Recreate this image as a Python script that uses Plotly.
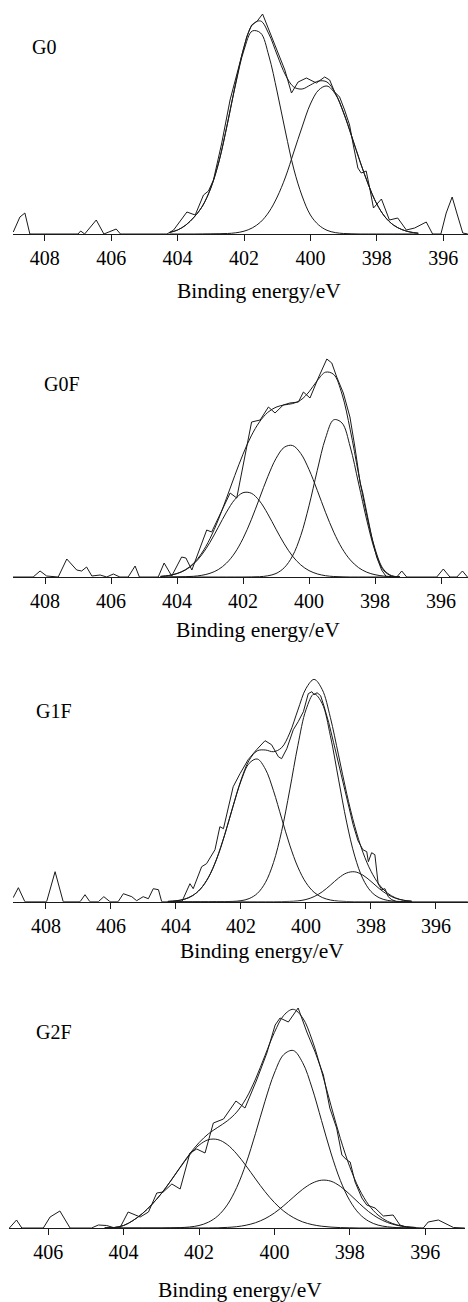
import plotly.graph_objects as go

# ---------------- data (binding energy in eV, intensity in a.u.) ----------------
# G0
g0_raw_be = [408.95, 408.75, 408.60, 408.45, 407.0, 406.92, 406.80, 406.45, 406.22, 405.85, 405.72,
             404.32, 404.22, 404.12, 403.72, 403.47, 403.22, 403.07, 402.92, 402.67, 402.42, 402.17,
             401.92, 401.77, 401.60, 401.44, 401.22, 400.97, 400.77, 400.57, 400.37, 400.12, 399.82,
             399.57, 399.42, 399.27, 399.12, 398.97, 398.82, 398.72, 398.57, 398.47, 398.32, 398.22,
             398.10, 397.86, 397.62, 397.37, 397.11, 396.86, 396.51, 396.32, 396.07, 395.91, 395.73,
             395.59, 395.41, 395.26]
g0_raw_int = [2, 17, 21, 0, 0, 3, 0, 14, 0, 5, 0,
              0, 2, 4, 22, 19, 39, 43, 54, 91, 134, 167,
              197, 209, 213, 220, 202, 181, 164, 141, 152, 156, 151,
              157, 154, 142, 137, 124, 109, 91, 66, 61, 63, 47,
              26, 35, 14, 16, 4, 6, 12, 0, 0, 21, 37,
              21, 1, 0]
g0_fit_be = [404.25, 404.0, 403.75, 403.5, 403.25, 403.0, 402.75, 402.5, 402.25, 402.0, 401.75,
             401.5, 401.25, 401.0, 400.75, 400.5, 400.25, 400.0, 399.75, 399.5, 399.25, 399.0,
             398.75, 398.5, 398.25, 398.0, 397.75, 397.5, 397.25, 397.0, 396.75]
g0_peak_a = [1.5, 4, 9, 17, 28, 46, 73, 110, 150, 184, 203, 201, 178, 142, 102, 65, 38, 19, 9,
             3.7, 1.4, 0.5, 0.2, 0, 0, 0, 0, 0, 0, 0, 0]
g0_peak_b = [0, 0, 0, 0, 0.1, 0.2, 0.3, 0.5, 1.2, 2.8, 6.1, 12, 22, 37, 57, 82, 107, 130, 144,
             148, 140, 121, 97, 72, 49, 30, 17, 9, 4.5, 2, 0.8]
g0_envelope = [1.5, 4, 9, 17, 28, 46, 73, 110.5, 151, 187, 209, 213, 200, 179, 159, 147, 145, 149,
               153, 152, 141, 121.5, 97, 72, 49, 30, 17, 9, 4.5, 2, 0.8]

# G0F
g0f_raw_be = [408.97, 408.36, 408.15, 407.95, 407.60, 407.34, 407.04, 406.89, 406.74, 406.58, 406.33,
              406.13, 405.93, 405.73, 405.48, 405.27, 405.14, 404.57, 404.39, 404.16, 403.86, 403.73,
              403.55, 403.10, 402.95, 402.55, 402.39, 402.19, 401.99, 401.74, 401.48, 401.23, 401.03,
              400.78, 400.58, 400.32, 400.17, 399.97, 399.72, 399.46, 399.31, 399.16, 398.96, 398.76,
              398.61, 398.45, 398.37, 398.25, 398.10, 397.95, 397.80, 397.65, 397.34, 397.19, 397.04,
              396.13, 395.93, 395.73, 395.52, 395.35, 395.20]
g0f_raw_int = [0, 0, 6, 1, 0, 18, 7, 6, 10, 1, 2,
               0, 3, 0, 0, 11, 0, 0, 14, 1, 20, 19,
               7, 47, 45, 74, 84, 79, 114, 155, 157, 170, 164,
               172, 174, 175, 185, 179, 199, 218, 214, 200, 184, 160,
               130, 94, 84, 64, 40, 20, 7, 0, 0, 6, 0,
               0, 8, 0, 0, 6, 0]
g0f_fit_be = [404.5, 404.25, 404.0, 403.75, 403.5, 403.25, 403.0, 402.75, 402.5, 402.25, 402.0,
              401.75, 401.5, 401.25, 401.0, 400.75, 400.5, 400.25, 400.0, 399.75, 399.5, 399.25,
              399.0, 398.75, 398.5, 398.25, 398.0, 397.75, 397.5, 397.25]
g0f_peak_a = [0.6, 1.5, 3.4, 6.9, 12.9, 22.2, 34.7, 49.7, 64.9, 77.4, 84.3, 83.8, 76.1, 63.1, 47.8,
              33.1, 20.9, 12.1, 6.4, 3.1, 1.3, 0.5, 0.2, 0, 0, 0, 0, 0, 0, 0]
g0f_peak_b = [0, 0, 0.1, 0.3, 0.7, 1.7, 3.7, 7.4, 13.9, 24.0, 38.5, 57.2, 78.7, 100.3, 118.5, 129.7,
              131.5, 123.5, 107.5, 86.7, 64.7, 44.8, 28.7, 17.1, 9.4, 4.8, 2.3, 1.0, 0.4, 0.2]
g0f_peak_c = [0, 0, 0, 0, 0, 0, 0, 0, 0, 0, 0, 0.1, 0.3, 1.2, 3.5, 9.3, 21.0, 41.4, 71.2, 106.6,
              138.8, 157.2, 154, 130, 94, 57, 26, 7, 1, 0]
g0f_envelope = [0.6, 1.5, 3.5, 7.2, 13.6, 23.9, 38.4, 57.1, 78.8, 101.4, 122.8, 141.1, 155.1, 164.6,
                169.8, 172.1, 173.4, 177.0, 185.1, 196.4, 204.8, 202.5, 182.9, 147.1, 103.4, 61.8,
                28.3, 8.0, 1.4, 0.2]

# G1F
g1f_raw_be = [409.01, 408.85, 408.65, 407.98, 407.72, 407.47, 406.95, 406.80, 406.65, 406.39, 406.22,
              406.03, 405.78, 405.62, 405.36, 405.21, 405.01, 404.85, 404.70, 404.54, 404.44, 403.82,
              403.57, 403.47, 403.21, 403.06, 402.80, 402.65, 402.54, 402.34, 402.24, 402.03, 401.78,
              401.52, 401.26, 401.06, 400.85, 400.75, 400.59, 400.39, 400.24, 400.08, 399.93, 399.82,
              399.75, 399.66, 399.55, 399.45, 399.30, 399.15, 399.00, 398.85, 398.70, 398.55, 398.40,
              398.25, 398.13, 398.08, 397.98, 397.88, 397.78, 397.67, 397.57, 397.47, 397.36, 397.20,
              395.02]
g1f_raw_int = [4, 14, 0, 0, 30, 0, 0, 7, 0, 0, 5,
               0, 0, 8, 5, 1, 5, 3, 13, 12, 0, 0,
               18, 13, 35, 38, 52, 75, 73, 103, 115, 128, 142,
               152, 161, 157, 145, 143, 153, 172, 180, 190, 208, 210,
               207, 209, 206, 196, 179, 159, 139, 117, 96, 77, 61,
               52, 50, 40, 49, 47, 18, 12, 13, 5, 2, 0,
               0]
g1f_fit_be = [404.25, 404.0, 403.75, 403.5, 403.25, 403.0, 402.75, 402.5, 402.25, 402.0, 401.75,
              401.5, 401.25, 401.0, 400.75, 400.5, 400.25, 400.0, 399.75, 399.5, 399.25, 399.0,
              398.75, 398.5, 398.25, 398.0, 397.75, 397.5, 397.25, 397.0, 396.75]
g1f_peak_a = [0.3, 0.9, 2.4, 5.9, 12.6, 24.4, 42.6, 67.0, 94.7, 120.6, 138.3, 142.7, 132.6, 110.9,
              83.5, 56.6, 34.6, 19.0, 9.4, 4.2, 1.7, 0.6, 0.2, 0, 0, 0, 0, 0, 0, 0, 0]
g1f_peak_b = [0, 0, 0, 0, 0, 0, 0.1, 0.1, 0.3, 1.0, 3.1, 8.2, 19.1, 39.1, 70.4, 111.8, 156.2, 192.0,
              207.8, 198.0, 166.0, 122.6, 79.6, 45.6, 22.9, 10.2, 4.0, 1.4, 0.4, 0.1, 0]
g1f_peak_c = [0, 0, 0, 0, 0, 0, 0, 0, 0, 0, 0, 0, 0, 0, 0.1, 0.3, 0.8, 2.2, 5.1, 9.9, 16.5, 23.6,
              28.7, 29.9, 26.6, 20.3, 13.2, 7.4, 3.5, 1.4, 0.5]
g1f_envelope = [0.3, 0.9, 2.4, 5.9, 12.6, 24.4, 42.7, 67.1, 95.0, 121.6, 141.4, 150.9, 151.7, 150.0,
                154.0, 168.7, 191.6, 213.2, 222.3, 212.1, 184.2, 146.8, 108.5, 75.5, 49.5, 30.5,
                17.2, 8.8, 3.9, 1.5, 0.5]

# G2F
g2f_raw_be = [407.03, 406.84, 406.70, 406.13, 405.95, 405.69, 405.42, 404.85, 404.67, 404.45, 404.23,
              404.10, 403.88, 403.56, 403.34, 403.12, 402.95, 402.72, 402.50, 402.24, 402.06, 401.84,
              401.62, 401.35, 401.02, 400.78, 400.47, 400.20, 399.98, 399.85, 399.63, 399.37, 399.14,
              398.92, 398.70, 398.53, 398.35, 398.21, 398.08, 397.99, 397.86, 397.68, 397.55, 397.33,
              397.11, 396.85, 396.67, 396.49, 396.05, 395.92, 395.65, 395.25, 394.95]
g2f_raw_int = [0, 8, 0, 0, 11, 17, 0, 0, 3, 2.5, 0,
               0, 16, 11, 16, 35, 36, 44, 39, 75, 79, 75,
               105, 109, 127, 120, 148, 175, 203, 210, 206, 220, 196,
               176, 153, 120, 100, 73, 68, 66, 46, 30, 23, 20,
               12, 13, 3, 0.7, 0, 6, 8, 0.5, 0]
g2f_fit_be = [404.5, 404.25, 404.0, 403.75, 403.5, 403.25, 403.0, 402.75, 402.5, 402.25, 402.0,
              401.75, 401.5, 401.25, 401.0, 400.75, 400.5, 400.25, 400.0, 399.75, 399.5, 399.25,
              399.0, 398.75, 398.5, 398.25, 398.0, 397.75, 397.5, 397.25, 397.0, 396.75, 396.5,
              396.25]
g2f_peak_a = [0, 0.5, 2.5, 7.5, 14.5, 23.5, 34.4, 47.0, 60.4, 73.0, 82.8, 88.3, 88.4, 83.4, 74.1,
              62.1, 49.0, 36.4, 25.5, 16.8, 10.5, 6.1, 3.4, 1.8, 0.9, 0.4, 0.2, 0, 0, 0, 0, 0, 0, 0]
g2f_peak_b = [0, 0, 0, 0, 0, 0, 0, 0.2, 0.4, 1.0, 2.5, 5.8, 12.1, 23.1, 40.5, 64.7, 94.7, 126.7,
              155.0, 173.5, 177.5, 165.3, 139.9, 107.5, 75.0, 47.5, 27.4, 14.3, 6.8, 2.9, 1.2, 0.4,
              0.1, 0]
g2f_peak_c = [0, 0, 0, 0, 0, 0, 0, 0, 0, 0, 0, 0.1, 0.2, 0.6, 1.3, 2.8, 5.3, 9.3, 15.0, 22.4, 30.7,
              38.7, 44.8, 47.8, 46.8, 41.6, 33.6, 24.7, 16.4, 10.0, 5.5, 2.7, 1.2, 0.5]
g2f_envelope = [0, 0.5, 2.5, 7.5, 14.5, 23.5, 34.4, 47.2, 60.8, 74.0, 85.3, 94.2, 100.7, 107.1,
                115.9, 129.6, 149.0, 172.4, 195.5, 212.7, 218.7, 210.1, 188.1, 157.1, 122.7, 89.5,
                61.2, 39.0, 23.2, 12.9, 6.7, 3.1, 1.3, 0.5]

sample_labels = ["G0", "G0F", "G1F", "G2F"]
tick_values = [408, 406, 404, 402, 400, 398, 396]
tick_values_g2f = [406, 404, 402, 400, 398, 396]
axis_title = "Binding energy/eV"

# ---------------- layout geometry (pixels) ----------------
W, H = 468, 1302
FONT = "Liberation Serif, Times New Roman, serif"
INK = "#1a1a1a"

panels = [
    dict(raw=(g0_raw_be, g0_raw_int), fit=g0_fit_be, env=g0_envelope,
         comps=[g0_peak_a, g0_peak_b], ticks=tick_values,
         x0=13, x1=468, base=234, top=10, xr=[408.958, 395.253],
         lab=(43.5, 47), title=(259, 291)),
    dict(raw=(g0f_raw_be, g0f_raw_int), fit=g0f_fit_be, env=g0f_envelope,
         comps=[g0f_peak_a, g0f_peak_b, g0f_peak_c], ticks=tick_values,
         x0=13, x1=468, base=577, top=350, xr=[408.970, 395.182],
         lab=(61.5, 384), title=(258, 630)),
    dict(raw=(g1f_raw_be, g1f_raw_int), fit=g1f_fit_be, env=g1f_envelope,
         comps=[g1f_peak_a, g1f_peak_b, g1f_peak_c], ticks=tick_values,
         x0=13, x1=468, base=901.7, top=670, xr=[409.015, 395.015],
         lab=(53.5, 711), title=(262, 951.5)),
    dict(raw=(g2f_raw_be, g2f_raw_int), fit=g2f_fit_be, env=g2f_envelope,
         comps=[g2f_peak_a, g2f_peak_b, g2f_peak_c], ticks=tick_values_g2f,
         x0=9, x1=465, base=1228, top=995, xr=[407.040, 394.944],
         lab=(53.5, 1032), title=(240, 1290)),
]

fig = go.Figure()
layout = dict(width=W, height=H, margin=dict(l=0, r=0, t=0, b=0),
              paper_bgcolor="white", plot_bgcolor="white", showlegend=False,
              annotations=[])

for i, p in enumerate(panels):
    n = "" if i == 0 else str(i + 1)
    xa, ya = "x" + n, "y" + n
    line_style = dict(color=INK, width=1)
    # fitted components
    for comp in p["comps"]:
        fig.add_trace(go.Scatter(x=p["fit"], y=comp, mode="lines", xaxis=xa, yaxis=ya,
                                 line=dict(shape="spline", smoothing=1, **line_style),
                                 hoverinfo="skip"))
    # envelope
    fig.add_trace(go.Scatter(x=p["fit"], y=p["env"], mode="lines", xaxis=xa, yaxis=ya,
                             line=dict(shape="spline", smoothing=1, **line_style),
                             hoverinfo="skip"))
    # raw spectrum
    fig.add_trace(go.Scatter(x=p["raw"][0], y=p["raw"][1], mode="lines", xaxis=xa, yaxis=ya,
                             line=dict(shape="linear", **line_style), hoverinfo="skip"))

    layout["xaxis" + n] = dict(
        domain=[p["x0"] / W, p["x1"] / W], range=p["xr"], anchor=ya,
        showline=True, linecolor=INK, linewidth=1, mirror=False,
        ticks="outside", ticklen=6, tickwidth=1, tickcolor=INK,
        tickvals=p["ticks"], ticktext=[str(t) for t in p["ticks"]],
        tickfont=dict(family=FONT, size=20, color="black"),
        showgrid=False, zeroline=False, fixedrange=True)
    layout["yaxis" + n] = dict(
        domain=[1 - p["base"] / H, 1 - p["top"] / H], range=[0, p["base"] - p["top"]],
        anchor=xa, visible=False, showgrid=False, zeroline=False, fixedrange=True)
    layout["annotations"].append(dict(
        text=sample_labels[i], x=p["lab"][0] / W, y=1 - p["lab"][1] / H,
        xref="paper", yref="paper", xanchor="center", yanchor="middle", showarrow=False,
        font=dict(family=FONT, size=20, color="black")))
    layout["annotations"].append(dict(
        text=axis_title, x=p["title"][0] / W, y=1 - p["title"][1] / H,
        xref="paper", yref="paper", xanchor="center", yanchor="middle", showarrow=False,
        font=dict(family=FONT, size=21.5, color="black")))

fig.update_layout(**layout)
fig.write_html("out.html", config={"displayModeBar": False},
               post_script="document.body.style.margin='0';document.body.style.overflow='hidden';")
